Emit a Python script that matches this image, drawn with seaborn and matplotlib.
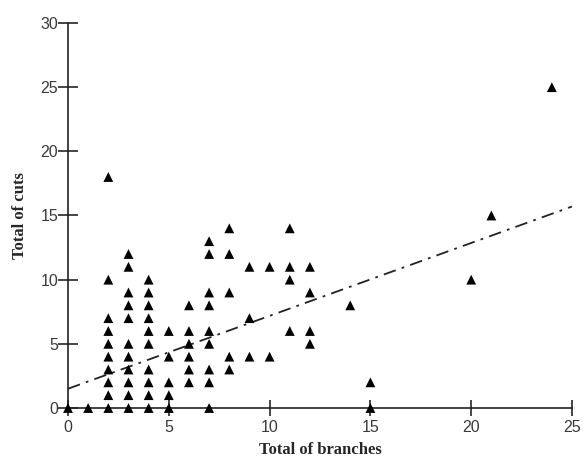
import matplotlib
matplotlib.use("Agg")
import matplotlib.pyplot as plt
import seaborn as sns
import pandas as pd

# Data
branches = (
    [0, 1]
    + [2] * 10
    + [3] * 11
    + [4] * 10
    + [5] * 5
    + [6] * 6
    + [7] * 9
    + [8] * 5
    + [9] * 3
    + [10] * 2
    + [11] * 4
    + [12] * 4
    + [14, 15, 15, 20, 21, 24]
)
cuts = (
    [0, 0]
    + [0, 1, 2, 3, 4, 5, 6, 7, 10, 18]
    + [0, 1, 2, 3, 4, 5, 7, 8, 9, 11, 12]
    + [0, 1, 2, 3, 5, 6, 7, 8, 9, 10]
    + [0, 1, 2, 4, 6]
    + [2, 3, 4, 5, 6, 8]
    + [0, 2, 3, 5, 6, 8, 9, 12, 13]
    + [3, 4, 9, 12, 14]
    + [4, 7, 11]
    + [4, 11]
    + [6, 10, 11, 14]
    + [5, 6, 9, 11]
    + [8, 0, 2, 10, 15, 25]
)
trend_x = [0, 25]
trend_y = [1.5, 15.7]
x_ticks = [0, 5, 10, 15, 20, 25]
y_ticks = [0, 5, 10, 15, 20, 25, 30]

df = pd.DataFrame({"branches": branches, "cuts": cuts})

sns.set_style("ticks")
plt.rcParams["font.family"] = ["Liberation Sans", "DejaVu Sans"]

fig = plt.figure(figsize=(5.85, 4.57), dpi=100)
ax = fig.add_axes([68 / 585, 1 - 408 / 457, (572 - 68) / 585, (408 - 23) / 457])

sns.scatterplot(data=df, x="branches", y="cuts", marker="^", s=50,
                color="black", edgecolor="none", ax=ax, clip_on=False, zorder=3)
sns.lineplot(x=trend_x, y=trend_y, ax=ax, color="#222222", linewidth=1.3,
             dashes=False, zorder=2)
ax.lines[-1].set_dashes((7, 3.5, 1.5, 3.5))

ax.set_xlim(0, 25)
ax.set_ylim(0, 30)
ax.set_xticks(x_ticks)
ax.set_yticks(y_ticks)
ax.tick_params(axis="y", direction="inout", length=14, width=1.2,
               labelsize=11.5, labelcolor="#3a3a3a", pad=0)
ax.tick_params(axis="x", direction="inout", length=11, width=1.2,
               labelsize=11.5, labelcolor="#3a3a3a", pad=3)
for s in ["top", "right"]:
    ax.spines[s].set_visible(False)
for s in ["left", "bottom"]:
    ax.spines[s].set_linewidth(1.2)
    ax.spines[s].set_color("#222222")

ax.set_xlabel("Total of branches", fontsize=12, fontweight="bold",
              family=["Liberation Serif", "DejaVu Serif"], labelpad=5)
ax.set_ylabel("Total of cuts", fontsize=12, fontweight="bold",
              family=["Liberation Serif", "DejaVu Serif"], labelpad=9)

fig.savefig("out.png", dpi=100)
